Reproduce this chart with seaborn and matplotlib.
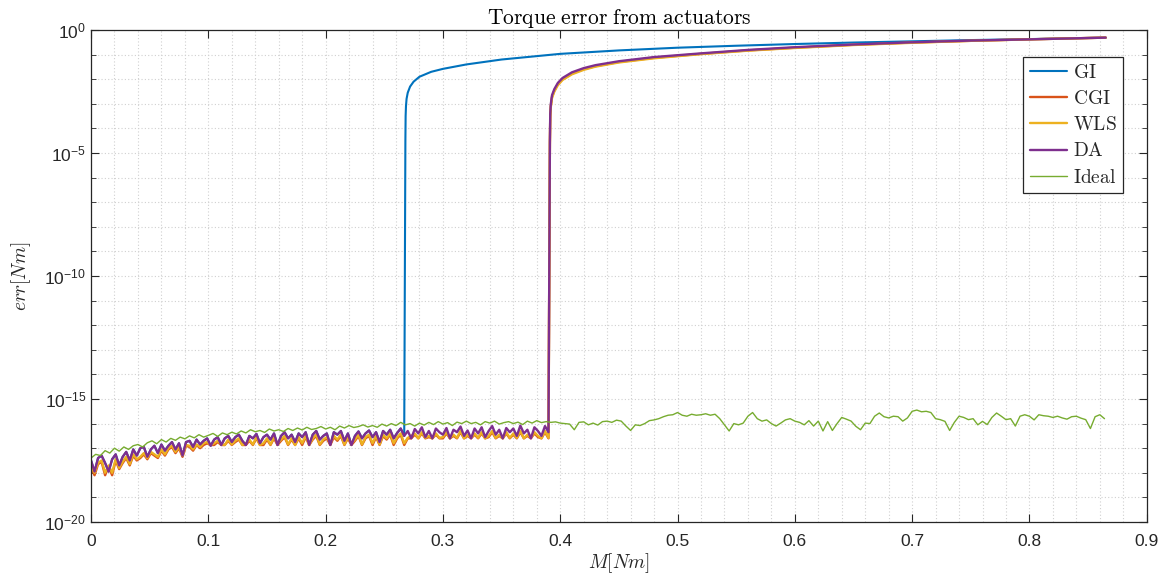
import numpy as np
import pandas as pd
import matplotlib
matplotlib.use("Agg")
import matplotlib.pyplot as plt
import seaborn as sns
from matplotlib.ticker import FixedLocator, NullFormatter

# ---------------- data (log10 of error) ----------------
series_names = ["GI", "CGI", "WLS", "DA", "Ideal"]
series_colors = ["#0072BD", "#D95319", "#EDB120", "#7E2F8E", "#77AC30"]
x_tick_values = [0, 0.1, 0.2, 0.3, 0.4, 0.5, 0.6, 0.7, 0.8, 0.9]
x_tick_labels = ["0", "0.1", "0.2", "0.3", "0.4", "0.5", "0.6", "0.7", "0.8", "0.9"]
y_tick_exponents = [-20, -15, -10, -5, 0]

ideal_log = [
    -17.40, -17.25, -17.30, -17.10, -17.20, -17.00, -17.12, -16.95, -17.05, -16.90,
    -16.85, -16.95, -16.78, -16.70, -16.82, -16.65, -16.75, -16.60, -16.68, -16.55,
    -16.62, -16.50, -16.58, -16.45, -16.55, -16.48, -16.40, -16.52, -16.38, -16.45,
    -16.35, -16.42, -16.30, -16.38, -16.25, -16.33, -16.28, -16.36, -16.22, -16.30,
    -16.25, -16.32, -16.20, -16.28, -16.18, -16.26, -16.15, -16.24, -16.20, -16.12,
    -16.22, -16.15, -16.25, -16.10, -16.18, -16.08, -16.16, -16.12, -16.05, -16.14,
    -16.08, -16.15, -16.02, -16.10, -16.00, -16.08, -15.95, -16.05, -16.00, -16.10,
    -15.98, -16.06, -15.95, -16.04, -15.92, -16.02, -15.96, -16.08, -15.94, -16.00,
    -15.90, -16.00, -15.95, -16.05, -15.92, -15.98, -15.90, -16.02, -15.96, -15.92,
    -16.00, -15.94, -16.04, -15.90, -15.98, -15.88, -15.96, -15.92, -15.95, -15.93,
    -15.98, -16.00, -16.02, -16.25, -15.95, -15.93, -16.05, -15.98, -16.06, -15.92,
    -15.90, -15.95, -15.86, -15.90, -16.10, -16.28, -16.05, -16.08, -16.00, -15.88,
    -15.85, -15.80, -15.72, -15.66, -15.64, -15.55, -15.66, -15.70, -15.62, -15.66,
    -15.64, -15.60, -15.66, -15.62, -15.80, -16.05, -16.30, -16.00, -16.05, -15.98,
    -15.70, -15.55, -15.80, -15.90, -15.85, -16.00, -16.10, -15.98, -15.85, -15.80,
    -15.90, -15.95, -16.05, -15.88, -16.10, -15.90, -16.30, -15.92, -16.28, -16.00,
    -15.75, -15.82, -15.90, -16.11, -16.25, -15.98, -16.00, -15.70, -15.57, -15.72,
    -15.77, -15.70, -15.72, -15.90, -15.77, -15.50, -15.45, -15.52, -15.50, -15.55,
    -15.80, -15.84, -15.91, -16.28, -15.95, -15.70, -15.75, -15.84, -15.80, -16.05,
    -15.91, -16.04, -15.75, -15.57, -15.70, -15.84, -15.80, -16.10, -15.70, -15.64,
    -15.70, -15.85, -15.64, -15.68, -15.70, -15.75, -15.70, -15.77, -15.82, -15.72,
    -15.70, -15.78, -15.84, -16.20, -15.72, -15.64, -15.80,
]

da_noise_log = [
    -17.50, -17.95, -17.40, -17.30, -17.60, -17.95, -17.45, -17.25, -17.70, -17.35,
    -17.15, -17.50, -17.05, -17.30, -17.00, -16.95, -17.35, -17.05, -16.90, -17.20,
    -16.85, -17.10, -16.90, -16.75, -17.05, -16.80, -17.30, -16.75, -16.70, -16.95,
    -16.65, -16.85, -16.70, -16.60, -16.90, -16.65, -16.55, -16.87, -16.60, -16.50,
    -16.75, -16.55, -16.45, -16.70, -16.87, -16.50, -16.60, -16.42, -16.80, -16.55,
    -16.45, -16.65, -16.40, -16.87, -16.50, -16.35, -16.60, -16.45, -16.75, -16.40,
    -16.55, -16.35, -16.87, -16.45, -16.30, -16.65, -16.50, -16.40, -16.87, -16.35,
    -16.45, -16.30, -16.70, -16.40, -16.87, -16.50, -16.32, -16.60, -16.40, -16.28,
    -16.55, -16.35, -16.75, -16.30, -16.45, -16.25, -16.60, -16.38, -16.20, -16.50,
    -16.30, -16.60, -16.22, -16.40, -16.15, -16.55, -16.30, -16.60, -16.20, -16.35,
    -16.45, -16.18, -16.60, -16.25, -16.35, -16.12, -16.50, -16.28, -16.60, -16.20,
    -16.40, -16.15, -16.55, -16.30, -16.10, -16.45, -16.25, -16.60, -16.18, -16.35,
    -16.20, -16.50, -16.08, -16.40, -16.25, -16.60, -16.15, -16.30, -16.50, -16.10,
    -16.35,
]

cgi_noise_log = [
    -17.80, -18.10, -17.65, -17.55, -18.10, -17.75, -18.10, -17.50, -17.85, -17.60,
    -17.40, -17.70, -17.30, -17.50, -17.40, -17.25, -17.45, -17.20, -17.30, -17.40,
    -17.10, -17.30, -17.05, -16.95, -17.20, -17.00, -17.35, -16.90, -16.95, -17.10,
    -16.87, -17.00, -16.87, -16.80, -16.87, -16.87, -16.75, -16.87, -16.87, -16.70,
    -16.87, -16.75, -16.65, -16.87, -16.87, -16.70, -16.87, -16.60, -16.87, -16.87,
    -16.65, -16.87, -16.60, -16.87, -16.70, -16.55, -16.87, -16.65, -16.87, -16.60,
    -16.87, -16.55, -16.87, -16.65, -16.50, -16.87, -16.70, -16.60, -16.87, -16.55,
    -16.70, -16.50, -16.87, -16.60, -16.87, -16.70, -16.50, -16.87, -16.60, -16.50,
    -16.87, -16.55, -16.87, -16.50, -16.65, -16.45, -16.87, -16.60, -16.45, -16.87,
    -16.60, -16.60, -16.45, -16.60, -16.40, -16.60, -16.55, -16.60, -16.45, -16.60,
    -16.60, -16.40, -16.60, -16.50, -16.60, -16.35, -16.60, -16.50, -16.60, -16.45,
    -16.60, -16.40, -16.60, -16.55, -16.35, -16.60, -16.50, -16.60, -16.40, -16.60,
    -16.45, -16.60, -16.35, -16.60, -16.50, -16.60, -16.40, -16.55, -16.60, -16.35,
    -16.60,
]

wls_noise_log = [
    -17.75, -18.00, -17.60, -17.50, -18.00, -17.70, -18.00, -17.45, -17.80, -17.55,
    -17.35, -17.65, -17.25, -17.45, -17.35, -17.20, -17.40, -17.15, -17.25, -17.35,
    -17.05, -17.25, -17.00, -16.90, -17.15, -16.95, -17.30, -16.87, -16.90, -17.05,
    -16.85, -16.95, -16.80, -16.75, -16.87, -16.80, -16.70, -16.85, -16.87, -16.65,
    -16.85, -16.70, -16.60, -16.87, -16.80, -16.65, -16.85, -16.55, -16.87, -16.80,
    -16.60, -16.85, -16.55, -16.80, -16.65, -16.50, -16.85, -16.60, -16.87, -16.55,
    -16.80, -16.50, -16.87, -16.60, -16.45, -16.85, -16.65, -16.55, -16.80, -16.50,
    -16.65, -16.45, -16.85, -16.55, -16.80, -16.65, -16.45, -16.85, -16.55, -16.45,
    -16.80, -16.50, -16.85, -16.45, -16.60, -16.40, -16.80, -16.55, -16.40, -16.80,
    -16.58, -16.50, -16.40, -16.60, -16.35, -16.58, -16.50, -16.60, -16.40, -16.58,
    -16.55, -16.35, -16.60, -16.45, -16.58, -16.30, -16.60, -16.45, -16.58, -16.40,
    -16.58, -16.35, -16.60, -16.50, -16.30, -16.58, -16.45, -16.60, -16.35, -16.58,
    -16.40, -16.58, -16.30, -16.60, -16.45, -16.58, -16.35, -16.50, -16.60, -16.30,
    -16.58,
]

# saturated part of the curves
gi_sat_M = [0.2680, 0.2682, 0.2685, 0.269, 0.270, 0.272, 0.275, 0.280, 0.290, 0.300,
            0.320, 0.350, 0.400, 0.450, 0.500, 0.550, 0.600, 0.650, 0.700, 0.750,
            0.800, 0.865]
gi_sat_log = [-4.5, -3.5, -3.1, -2.8, -2.55, -2.3, -2.1, -1.9, -1.7, -1.58,
              -1.40, -1.20, -0.97, -0.83, -0.72, -0.64, -0.57, -0.51, -0.46, -0.41,
              -0.37, -0.31]

da_sat_M = [0.3912, 0.3915, 0.392, 0.393, 0.395, 0.398, 0.402, 0.410, 0.420, 0.430,
            0.450, 0.480, 0.520, 0.560, 0.600, 0.650, 0.700, 0.750, 0.800, 0.865]
da_sat_log = [-4.5, -3.4, -3.0, -2.65, -2.4, -2.15, -1.95, -1.72, -1.55, -1.43,
              -1.27, -1.10, -0.95, -0.81, -0.70, -0.59, -0.50, -0.43, -0.38, -0.31]
cgi_sat_log = [-4.6, -3.5, -3.08, -2.72, -2.46, -2.2, -2.0, -1.77, -1.59, -1.47,
               -1.30, -1.13, -0.97, -0.83, -0.72, -0.60, -0.51, -0.44, -0.38, -0.31]
wls_sat_log = [-4.6, -3.55, -3.12, -2.76, -2.5, -2.24, -2.03, -1.80, -1.62, -1.49,
               -1.32, -1.15, -0.98, -0.84, -0.73, -0.61, -0.52, -0.44, -0.38, -0.31]

noise_M_end = 0.390
ideal_M_end = 0.864
gi_noise_count = 90

# ---------------- build series ----------------
M_noise = np.linspace(0, noise_M_end, len(da_noise_log))
M_ideal = np.linspace(0, ideal_M_end, len(ideal_log))

series = {
    "GI": (np.r_[M_noise[:gi_noise_count], gi_sat_M],
           np.r_[da_noise_log[:gi_noise_count], gi_sat_log]),
    "CGI": (np.r_[M_noise, da_sat_M], np.r_[cgi_noise_log, cgi_sat_log]),
    "WLS": (np.r_[M_noise, da_sat_M], np.r_[wls_noise_log, wls_sat_log]),
    "DA": (np.r_[M_noise, da_sat_M], np.r_[da_noise_log, da_sat_log]),
    "Ideal": (M_ideal, np.array(ideal_log)),
}
widths = {"GI": 1.5, "CGI": 1.7, "WLS": 1.7, "DA": 1.7, "Ideal": 1.0}

# ---------------- style ----------------
sns.set_theme(style="ticks")
plt.rcParams["font.family"] = ["Liberation Sans", "DejaVu Sans"]
plt.rcParams["mathtext.fontset"] = "custom"
plt.rcParams["mathtext.rm"] = "Liberation Sans"
plt.rcParams["mathtext.it"] = "Liberation Sans:italic"
plt.rcParams["mathtext.bf"] = "Liberation Sans:bold"

fig = plt.figure(figsize=(11.73, 5.78), dpi=100)
ax = fig.add_axes([0.0776, 0.0969, 0.9, 0.8512])

for name, color in zip(series_names, series_colors):
    M, lg = series[name]
    df = pd.DataFrame({"M": M, "err": 10.0 ** np.asarray(lg)})
    sns.lineplot(data=df, x="M", y="err", ax=ax, color=color, lw=widths[name],
                 estimator=None, sort=False, label=rf"$\mathrm{{{name}}}$")

ax.set_yscale("log")
ax.set_xlim(0, 0.9)
ax.set_ylim(1e-20, 1e0)

ax.yaxis.set_major_locator(FixedLocator([10.0 ** k for k in y_tick_exponents]))
ax.yaxis.set_minor_locator(FixedLocator([10.0 ** k for k in range(-20, 1)]))
ax.yaxis.set_minor_formatter(NullFormatter())
ax.set_yticklabels([rf"$10^{{{k}}}$" for k in y_tick_exponents])
ax.xaxis.set_major_locator(FixedLocator(x_tick_values))
ax.xaxis.set_minor_locator(FixedLocator(list(np.arange(0, 0.901, 0.02))))
ax.set_xticklabels(x_tick_labels)

ax.grid(which="both", axis="both", color="#d0d0d0", linestyle=(0, (1, 2)), lw=0.8)
ax.set_axisbelow(True)
ax.tick_params(which="both", direction="in", top=True, right=True, colors="#262626",
               labelsize=12.5, labelcolor="#262626")
ax.tick_params(which="major", length=6, width=0.8)
ax.tick_params(axis="x", which="major", pad=9)
ax.tick_params(axis="y", which="minor", length=3.5, width=0.6)
ax.tick_params(axis="x", which="minor", length=0)
for sp in ax.spines.values():
    sp.set_color("#262626")
    sp.set_linewidth(0.9)

xl = ax.set_xlabel(r"$M[Nm]$", fontsize=14, labelpad=1, color="#262626")
yl = ax.set_ylabel(r"$err[Nm]$", fontsize=14, labelpad=8, color="#262626")
tt = ax.set_title(r"$\mathrm{Torque\ error\ from\ actuators}$", fontsize=15.5, pad=4,
                  color="black")
for t in (xl, yl, tt):
    t.set_math_fontfamily("cm")

leg = ax.legend(loc="upper right", bbox_to_anchor=(0.978, 0.945), fontsize=14,
                frameon=True, fancybox=False, framealpha=1, edgecolor="#262626",
                handlelength=1.9, handletextpad=0.3, borderpad=0.35, labelspacing=0.42,
                borderaxespad=0)
leg.get_frame().set_linewidth(0.9)
for t in leg.get_texts():
    t.set_math_fontfamily("cm")

fig.savefig("out.png", dpi=100)
